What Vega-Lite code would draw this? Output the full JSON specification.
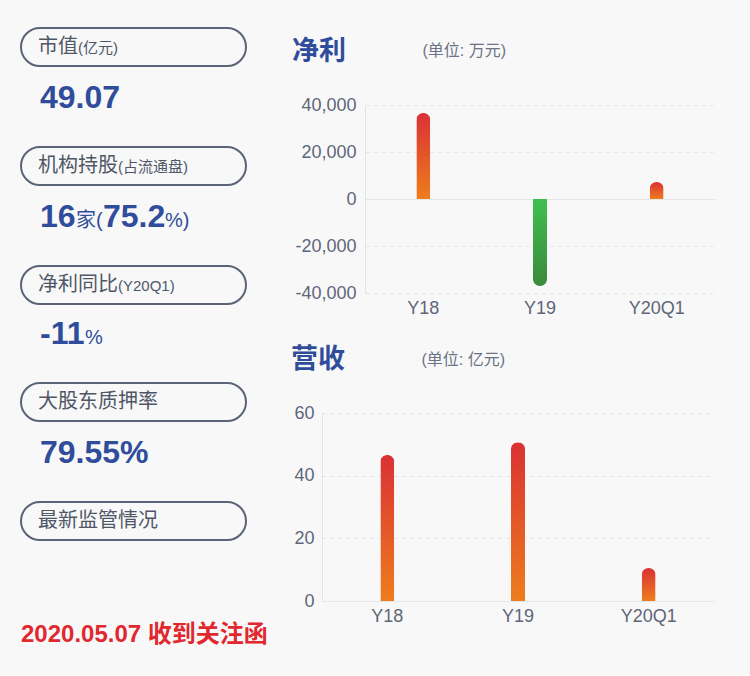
{
  "$schema": "https://vega.github.io/schema/vega-lite/v6.json",
  "background": "#f8f8f8",
  "padding": {"left": 20, "top": 26, "right": 35, "bottom": 28},
  "spacing": 1,
  "config": {
    "view": {"stroke": null},
    "font": "Liberation Sans, Noto Sans CJK SC",
    "axis": {"labelFont": "Liberation Sans", "titleFont": "Liberation Sans, Noto Sans CJK SC"}
  },
  "datasets": {
    "info": [
      {"order": 1, "label": "市值", "sub": "(亿元)", "value": "49.07"},
      {"order": 2, "label": "机构持股", "sub": "(占流通盘)", "value": "16", "unit": "家(", "value2": "75.2", "unit2": "%)"},
      {"order": 3, "label": "净利同比", "sub": "(Y20Q1)", "value": "-11", "unit": "%"},
      {"order": 4, "label": "大股东质押率", "value": "79.55%"},
      {"order": 5, "label": "最新监管情况", "note": "2020.05.07 收到关注函"}
    ],
    "profit": [
      {"period": "Y18", "profit": 36600},
      {"period": "Y19", "profit": -37000},
      {"period": "Y20Q1", "profit": 7200}
    ],
    "revenue": [
      {"period": "Y18", "revenue": 46.6},
      {"period": "Y19", "revenue": 50.7},
      {"period": "Y20Q1", "revenue": 10.5}
    ]
  },
  "vconcat": [
    {
      "spacing": 45,
      "hconcat": [
        {
          "width": 225,
          "height": 188,
          "data": {"name": "info"},
          "transform": [{"filter": "datum.order <= 3"}],
          "encoding": {
            "y": {"field": "order", "type": "quantitative", "scale": {"domain": [1.4874, 3.0672], "reverse": true, "nice": false, "zero": false, "padding": 0}, "axis": null}
          },
          "layer": [
            {
              "mark": {"type": "bar", "orient": "horizontal", "height": 38, "cornerRadius": 19, "fill": "#f8f8f8", "fillOpacity": 0, "stroke": "#5a6476", "strokeWidth": 2}
            },
            {
              "mark": {"type": "text", "align": "left", "baseline": "middle", "dx": 17, "fontSize": 20, "font": "Noto Sans CJK SC", "color": "#4f5767"},
              "encoding": {"x": {"value": 0}, "text": {"field": "label"}}
            },
            {
              "transform": [{"filter": "datum.order == 1"}],
              "mark": {"type": "text", "align": "left", "baseline": "middle", "dx": 57, "dy": 1, "fontSize": 15, "color": "#4f5767"},
              "encoding": {"x": {"value": 0}, "text": {"field": "sub"}}
            },
            {
              "transform": [{"filter": "datum.order == 2 || datum.order == 3"}],
              "mark": {"type": "text", "align": "left", "baseline": "middle", "dx": 97, "dy": 1, "fontSize": 15, "color": "#4f5767"},
              "encoding": {"x": {"value": 0}, "text": {"field": "sub"}}
            },
            {
              "transform": [{"filter": "datum.order <= 2"}],
              "mark": {"type": "text", "align": "left", "baseline": "alphabetic", "dx": 19, "dy": 61, "fontSize": 32, "fontWeight": "bold", "font": "Liberation Sans", "color": "#2f4d9a"},
              "encoding": {"x": {"value": 0}, "text": {"field": "value"}}
            },
            {
              "transform": [{"filter": "datum.order == 2"}],
              "mark": {"type": "text", "align": "left", "baseline": "alphabetic", "dx": 55, "dy": 61, "fontSize": 20, "color": "#2f4d9a"},
              "encoding": {"x": {"value": 0}, "text": {"field": "unit"}}
            },
            {
              "transform": [{"filter": "datum.order == 2"}],
              "mark": {"type": "text", "align": "left", "baseline": "alphabetic", "dx": 82, "dy": 61, "fontSize": 32, "fontWeight": "bold", "font": "Liberation Sans", "color": "#2f4d9a"},
              "encoding": {"x": {"value": 0}, "text": {"field": "value2"}}
            },
            {
              "transform": [{"filter": "datum.order == 2"}],
              "mark": {"type": "text", "align": "left", "baseline": "alphabetic", "dx": 144, "dy": 61, "fontSize": 20, "color": "#2f4d9a"},
              "encoding": {"x": {"value": 0}, "text": {"field": "unit2"}}
            }
          ]
        },
        {
          "width": 350,
          "height": 188,
          "title": {"text": "净利", "anchor": "start", "frame": "group", "dx": -73, "offset": -24, "fontSize": 27, "fontWeight": "bold", "font": "Noto Sans CJK SC", "color": "#2f4d9a"},
          "data": {"name": "profit"},
          "encoding": {
            "x": {
              "field": "period", "type": "nominal",
              "scale": {"domain": ["Y18", "Y19", "Y20Q1"], "paddingInner": 0, "paddingOuter": 0},
              "axis": {"labelAngle": 0, "title": null, "domain": false, "ticks": false, "labelFontSize": 18, "labelColor": "#5e6678", "labelPadding": 6, "grid": false}
            },
            "y": {
              "field": "profit", "type": "quantitative",
              "scale": {"domain": [-40000, 40000], "nice": false},
              "axis": {
                "values": [-40000, -20000, 0, 20000, 40000],
                "labelExpr": "replace(format(datum.value, ',d'), '\u2212', '-')",
                "title": "(单位: 万元)", "titleAngle": 0, "titleAlign": "left", "titleBaseline": "middle",
                "titleX": 57, "titleY": -55, "titleFontSize": 16, "titleFontWeight": "normal", "titleColor": "#6b7384",
                "labelFontSize": 18, "labelColor": "#5e6678", "labelPadding": 9, "ticks": false,
                "domainColor": "#e3e3e3", "gridColor": "#e6e6e6",
                "gridDash": {"condition": {"test": "datum.value === 0", "value": []}, "value": [4, 4]}
              }
            }
          },
          "layer": [
            {
              "transform": [{"filter": "datum.profit >= 0"}],
              "mark": {
                "type": "bar", "width": 14, "cornerRadiusTopLeft": 7, "cornerRadiusTopRight": 7,
                "color": {"gradient": "linear", "x1": 0, "y1": 0, "x2": 0, "y2": 1,
                  "stops": [{"offset": 0, "color": "#da3135"}, {"offset": 1, "color": "#ee7d1d"}]}
              }
            },
            {
              "transform": [{"filter": "datum.profit < 0"}],
              "mark": {
                "type": "bar", "width": 14, "cornerRadiusBottomLeft": 7, "cornerRadiusBottomRight": 7,
                "color": {"gradient": "linear", "x1": 0, "y1": 0, "x2": 0, "y2": 1,
                  "stops": [{"offset": 0, "color": "#3fbf4f"}, {"offset": 1, "color": "#3c8a3b"}]}
              }
            }
          ]
        }
      ]
    },
    {
      "spacing": 23,
      "hconcat": [
        {
          "width": 225,
          "height": 188,
          "data": {"name": "info"},
          "transform": [{"filter": "datum.order >= 3"}],
          "encoding": {
            "y": {"field": "order", "type": "quantitative", "scale": {"domain": [4.0924, 5.6723], "reverse": true, "nice": false, "zero": false, "padding": 0}, "axis": null}
          },
          "layer": [
            {
              "transform": [{"filter": "datum.order >= 4"}],
              "mark": {"type": "bar", "orient": "horizontal", "height": 38, "cornerRadius": 19, "fill": "#f8f8f8", "fillOpacity": 0, "stroke": "#5a6476", "strokeWidth": 2}
            },
            {
              "transform": [{"filter": "datum.order >= 4"}],
              "mark": {"type": "text", "align": "left", "baseline": "middle", "dx": 17, "fontSize": 20, "font": "Noto Sans CJK SC", "color": "#4f5767"},
              "encoding": {"x": {"value": 0}, "text": {"field": "label"}}
            },
            {
              "transform": [{"filter": "datum.order <= 4"}],
              "mark": {"type": "text", "align": "left", "baseline": "alphabetic", "dx": 19, "dy": 61, "fontSize": 32, "fontWeight": "bold", "font": "Liberation Sans", "color": "#2f4d9a"},
              "encoding": {"x": {"value": 0}, "text": {"field": "value"}}
            },
            {
              "transform": [{"filter": "datum.order == 3"}],
              "mark": {"type": "text", "align": "left", "baseline": "alphabetic", "dx": 64, "dy": 61, "fontSize": 20, "color": "#2f4d9a"},
              "encoding": {"x": {"value": 0}, "text": {"field": "unit"}}
            },
            {
              "transform": [{"filter": "datum.order == 5"}],
              "mark": {"type": "text", "align": "left", "baseline": "alphabetic", "dx": 0, "dy": 121, "fontSize": 24, "fontWeight": "bold", "color": "#e0282e"},
              "encoding": {"x": {"value": 0}, "text": {"field": "note"}}
            }
          ]
        },
        {
          "width": 392,
          "height": 188,
          "title": {"text": "营收", "anchor": "start", "frame": "group", "dx": -31, "offset": -23, "fontSize": 27, "fontWeight": "bold", "font": "Noto Sans CJK SC", "color": "#2f4d9a"},
          "data": {"name": "revenue"},
          "mark": {
            "type": "bar", "width": 14, "cornerRadiusTopLeft": 7, "cornerRadiusTopRight": 7,
            "color": {"gradient": "linear", "x1": 0, "y1": 0, "x2": 0, "y2": 1,
              "stops": [{"offset": 0, "color": "#da3135"}, {"offset": 1, "color": "#ee7d1d"}]}
          },
          "encoding": {
            "x": {
              "field": "period", "type": "nominal",
              "scale": {"domain": ["Y18", "Y19", "Y20Q1"], "paddingInner": 0, "paddingOuter": 0},
              "axis": {"labelAngle": 0, "title": null, "domain": false, "ticks": false, "labelFontSize": 18, "labelColor": "#5e6678", "labelPadding": 6, "grid": false}
            },
            "y": {
              "field": "revenue", "type": "quantitative",
              "scale": {"domain": [0, 60], "nice": false},
              "axis": {
                "values": [0, 20, 40, 60],
                "title": "(单位: 亿元)", "titleAngle": 0, "titleAlign": "left", "titleBaseline": "middle",
                "titleX": 99, "titleY": -54, "titleFontSize": 16, "titleFontWeight": "normal", "titleColor": "#6b7384",
                "labelFontSize": 18, "labelColor": "#5e6678", "labelPadding": 8, "ticks": false,
                "domainColor": "#e3e3e3", "gridColor": "#e6e6e6",
                "gridDash": {"condition": {"test": "datum.value === 0", "value": []}, "value": [4, 4]}
              }
            }
          }
        }
      ]
    }
  ]
}
